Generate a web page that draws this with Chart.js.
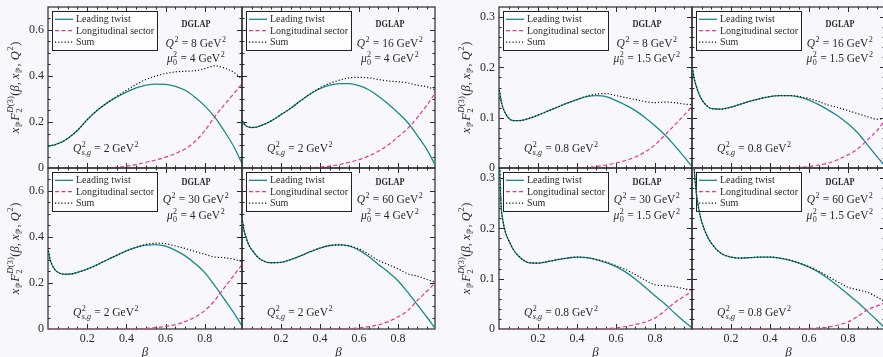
<!DOCTYPE html>
<html>
<head>
<meta charset="utf-8">
<script src="https://cdn.jsdelivr.net/npm/chart.js@4.4.0/dist/chart.umd.min.js"></script>
<style>
  html, body { margin: 0; padding: 0; background: #f8f8fc; width: 883px; height: 357px; overflow: hidden; }
  #wrap { position: relative; width: 883px; height: 357px; }
  canvas { position: absolute; }
</style>
</head>
<body>
<div id="wrap"></div>
<script>
const SERIF = '"Liberation Serif", "Times New Roman", serif';
const TEAL = '#16898c';
const PINK = '#e8338f';
const INK = '#2a2a2a';

const beta = [0.002, 0.01, 0.02, 0.035, 0.05, 0.075, 0.1, 0.15, 0.2, 0.25, 0.3, 0.35, 0.4,
  0.45, 0.5, 0.55, 0.6, 0.65, 0.7, 0.75, 0.8, 0.85, 0.9, 0.95, 0.99];

const xTickValues = [0.2, 0.4, 0.6, 0.8];
const yTicksMu4 = [0, 0.2, 0.4, 0.6];
const yTicksMu15 = [0, 0.1, 0.2, 0.3];
const seriesNames = ['Leading twist', 'Longitudinal sector', 'Sum'];

// mu0^2 = 4 GeV^2, Qsg^2 = 2 GeV^2
const twist8mu4 = [0.095,0.096,0.098,0.101,0.106,0.115,0.128,0.163,0.21,0.25,0.282,0.308,0.33,0.348,0.36,0.365,0.364,0.355,0.338,0.308,0.27,0.222,0.16,0.09,0.02];
const longi8mu4 = [0,0,0,0,0,0,0,0,0,0,0,0.003,0.008,0.015,0.025,0.035,0.047,0.063,0.083,0.115,0.162,0.222,0.275,0.325,0.366];
const sum8mu4 = [0.095,0.096,0.098,0.101,0.106,0.115,0.128,0.163,0.21,0.25,0.282,0.311,0.338,0.363,0.385,0.4,0.411,0.418,0.421,0.423,0.432,0.444,0.435,0.415,0.386];

const twist16mu4 = [0.205,0.193,0.184,0.178,0.176,0.178,0.185,0.205,0.232,0.26,0.292,0.322,0.345,0.36,0.367,0.367,0.358,0.34,0.312,0.278,0.24,0.198,0.14,0.078,0.015];
const longi16mu4 = [0,0,0,0,0,0,0,0,0,0,0,0,0.004,0.008,0.015,0.025,0.036,0.052,0.073,0.1,0.135,0.172,0.22,0.275,0.325];
const sum16mu4 = [0.205,0.193,0.184,0.178,0.176,0.178,0.185,0.205,0.232,0.26,0.292,0.322,0.349,0.368,0.382,0.392,0.394,0.392,0.385,0.378,0.375,0.37,0.36,0.353,0.34];

const twist30mu4 = [0.34,0.305,0.28,0.258,0.247,0.239,0.238,0.246,0.26,0.279,0.3,0.32,0.34,0.355,0.365,0.367,0.36,0.342,0.318,0.285,0.245,0.19,0.13,0.068,0.013];
const longi30mu4 = [0,0,0,0,0,0,0,0,0,0,0,0,0,0,0.003,0.006,0.011,0.019,0.032,0.052,0.08,0.123,0.18,0.235,0.28];
const sum30mu4 = [0.34,0.305,0.28,0.258,0.247,0.239,0.238,0.246,0.26,0.279,0.3,0.32,0.34,0.355,0.368,0.373,0.371,0.361,0.35,0.337,0.325,0.313,0.31,0.303,0.293];

const twist60mu4 = [0.47,0.43,0.4,0.365,0.345,0.318,0.3,0.288,0.29,0.302,0.318,0.336,0.352,0.363,0.366,0.36,0.343,0.315,0.28,0.248,0.21,0.16,0.105,0.05,0.004];
const longi60mu4 = [0,0,0,0,0,0,0,0,0,0,0,0,0,0,0,0.002,0.005,0.01,0.018,0.032,0.052,0.08,0.125,0.165,0.2];
const sum60mu4 = [0.47,0.43,0.4,0.365,0.345,0.318,0.3,0.288,0.29,0.302,0.318,0.336,0.352,0.363,0.366,0.362,0.348,0.325,0.298,0.28,0.262,0.24,0.23,0.215,0.204];

// mu0^2 = 1.5 GeV^2, Qsg^2 = 0.8 GeV^2
const twist8mu15 = [0.155,0.135,0.12,0.107,0.099,0.094,0.094,0.098,0.105,0.113,0.121,0.129,0.136,0.142,0.144,0.142,0.134,0.125,0.114,0.1,0.084,0.066,0.045,0.022,0.003];
const longi8mu15 = [0,0,0,0,0,0,0,0,0,0,0,0,0,0.001,0.003,0.006,0.01,0.015,0.022,0.032,0.046,0.065,0.085,0.105,0.123];
const sum8mu15 = [0.155,0.135,0.12,0.107,0.099,0.094,0.094,0.098,0.105,0.113,0.121,0.129,0.136,0.143,0.147,0.148,0.144,0.14,0.136,0.132,0.13,0.131,0.13,0.127,0.126];

const twist16mu15 = [0.2,0.18,0.165,0.148,0.136,0.124,0.118,0.117,0.121,0.127,0.133,0.138,0.142,0.144,0.144,0.141,0.135,0.126,0.115,0.103,0.088,0.07,0.046,0.022,0.004];
const longi16mu15 = [0,0,0,0,0,0,0,0,0,0,0,0,0,0,0,0.001,0.003,0.006,0.01,0.017,0.026,0.038,0.056,0.075,0.095];
const sum16mu15 = [0.2,0.18,0.165,0.148,0.136,0.124,0.118,0.117,0.121,0.127,0.133,0.138,0.142,0.144,0.144,0.142,0.138,0.132,0.125,0.12,0.114,0.108,0.102,0.097,0.099];

const twist30mu15 = [0.34,0.25,0.215,0.19,0.176,0.157,0.145,0.132,0.131,0.134,0.138,0.141,0.143,0.142,0.138,0.132,0.124,0.113,0.099,0.083,0.066,0.05,0.032,0.015,0.002];
const longi30mu15 = [0,0,0,0,0,0,0,0,0,0,0,0,0,0,0,0.001,0.002,0.005,0.009,0.014,0.022,0.036,0.052,0.065,0.075];
const sum30mu15 = [0.34,0.25,0.215,0.19,0.176,0.157,0.145,0.132,0.131,0.134,0.138,0.141,0.143,0.142,0.138,0.133,0.126,0.118,0.108,0.097,0.088,0.086,0.084,0.08,0.077];

const twist60mu15 = [0.42,0.33,0.278,0.238,0.213,0.187,0.17,0.15,0.143,0.141,0.142,0.143,0.143,0.141,0.137,0.131,0.123,0.113,0.1,0.085,0.069,0.053,0.035,0.017,0.002];
const longi60mu15 = [0,0,0,0,0,0,0,0,0,0,0,0,0,0,0,0,0.001,0.002,0.004,0.008,0.014,0.025,0.038,0.046,0.052];
const sum60mu15 = [0.42,0.33,0.278,0.238,0.213,0.187,0.17,0.15,0.143,0.141,0.142,0.143,0.143,0.141,0.137,0.131,0.124,0.115,0.104,0.093,0.083,0.078,0.073,0.063,0.054];

const panels = [
  { group: 0, col: 0, row: 0, q2: '8',  mu2: '4',   qsg: '2',   data: [twist8mu4, longi8mu4, sum8mu4] },
  { group: 0, col: 1, row: 0, q2: '16', mu2: '4',   qsg: '2',   data: [twist16mu4, longi16mu4, sum16mu4] },
  { group: 0, col: 0, row: 1, q2: '30', mu2: '4',   qsg: '2',   data: [twist30mu4, longi30mu4, sum30mu4] },
  { group: 0, col: 1, row: 1, q2: '60', mu2: '4',   qsg: '2',   data: [twist60mu4, longi60mu4, sum60mu4] },
  { group: 1, col: 0, row: 0, q2: '8',  mu2: '1.5', qsg: '0.8', data: [twist8mu15, longi8mu15, sum8mu15] },
  { group: 1, col: 1, row: 0, q2: '16', mu2: '1.5', qsg: '0.8', data: [twist16mu15, longi16mu15, sum16mu15] },
  { group: 1, col: 0, row: 1, q2: '30', mu2: '1.5', qsg: '0.8', data: [twist30mu15, longi30mu15, sum30mu15] },
  { group: 1, col: 1, row: 1, q2: '60', mu2: '1.5', qsg: '0.8', data: [twist60mu15, longi60mu15, sum60mu15] },
];

// page geometry
const colX = [[48, 242, 435], [499, 692, 885]];
const rowY = [7, 168, 329];
const groupLeft = [0, 440];
const yMax = [0.7, 0.32];
const yTicks = [yTicksMu4, yTicksMu15];
const yMinor = [0.05, 0.02];
const yMajorEvery = [4, 5];
const textRows = [[17, 35.5, 51, 141], [14.7, 31, 47, 143.7]];

// ---- small rich-text helper (italic, super/subscripts) ----
function font(size, italic, bold) {
  return (italic ? 'italic ' : '') + (bold ? 'bold ' : '') + size + 'px ' + SERIF;
}
function segWidth(ctx, segs, size) {
  let w = 0;
  segs.forEach(s => { ctx.font = font(size, s.i); w += ctx.measureText(s.t).width; });
  return w;
}
function drawSegs(ctx, segs, x, y, size) {
  segs.forEach(s => { ctx.font = font(size, s.i); ctx.fillText(s.t, x, y); x += ctx.measureText(s.t).width; });
  return x;
}
function richWidth(ctx, parts, size) {
  let w = 0;
  parts.forEach(p => {
    if (p.t !== undefined) w += segWidth(ctx, [p], size);
    else w += Math.max(p.sup ? segWidth(ctx, p.sup, size * 0.7) : 0, p.sub ? segWidth(ctx, p.sub, size * 0.7) : 0) + size * 0.08;
  });
  return w;
}
function drawRich(ctx, parts, x, y, size, align) {
  let cx = align === 'center' ? x - richWidth(ctx, parts, size) / 2 : x;
  ctx.textAlign = 'left';
  ctx.textBaseline = 'alphabetic';
  parts.forEach(p => {
    if (p.t !== undefined) cx = drawSegs(ctx, [p], cx, y, size);
    else {
      const a = p.sup ? drawSegs(ctx, p.sup, cx + size * 0.04, y - size * 0.42, size * 0.7) : cx;
      const b = p.sub ? drawSegs(ctx, p.sub, cx + size * 0.04, y + size * 0.25, size * 0.7) : cx;
      cx = Math.max(a, b) + size * 0.04;
    }
  });
}

const yTitle = [
  { t: 'x', i: 1 }, { sub: [{ t: 'ℙ' }] }, { t: 'F', i: 1 },
  { sup: [{ t: 'D', i: 1 }, { t: '(3)' }], sub: [{ t: '2' }] },
  { t: '(' }, { t: 'β', i: 1 }, { t: ', ' }, { t: 'x', i: 1 }, { sub: [{ t: 'ℙ' }] },
  { t: ', ' }, { t: 'Q', i: 1 }, { sup: [{ t: '2' }] }, { t: ')' },
];

function panelPlugin(p) {
  return {
    id: 'panelDecor',
    beforeDatasetsDraw(chart) {
      const ctx = chart.ctx;
      const { left, right, top, bottom } = chart.chartArea;
      const xs = chart.scales.x, ys = chart.scales.y;
      const g = p.group;
      ctx.save();

      // frame with inward ticks on all four sides
      ctx.strokeStyle = INK;
      ctx.lineWidth = 1;
      ctx.setLineDash([]);
      ctx.beginPath();
      for (let k = 1; k * 0.05 < 0.985; k++) {
        const len = k % 4 === 0 ? 5 : 2.5;
        const px = Math.round(xs.getPixelForValue(k * 0.05)) + 0.5;
        ctx.moveTo(px, bottom); ctx.lineTo(px, bottom - len);
        ctx.moveTo(px, top); ctx.lineTo(px, top + len);
      }
      for (let k = 1; k * yMinor[g] < yMax[g] - 1e-9; k++) {
        const len = k % yMajorEvery[g] === 0 ? 5 : 2.5;
        const py = Math.round(ys.getPixelForValue(k * yMinor[g])) + 0.5;
        ctx.moveTo(left, py); ctx.lineTo(left + len, py);
        ctx.moveTo(right, py); ctx.lineTo(right - len, py);
      }
      ctx.stroke();
      ctx.lineWidth = 1.2;
      ctx.strokeRect(left, top, right - left, bottom - top);

      // legend box
      const lx = left + 4, ly = top + 4;
      ctx.fillStyle = '#fdfdff';
      ctx.fillRect(lx, ly, 105, 39);
      ctx.lineWidth = 1;
      ctx.strokeStyle = '#222';
      ctx.strokeRect(lx + 0.5, ly + 0.5, 105, 39);
      const order = [2, 1, 0];
      order.forEach((di, k) => {
        const ds = chart.data.datasets[di];
        const yy = ly + 8.3 + k * 11.4;
        ctx.strokeStyle = ds.borderColor;
        ctx.lineWidth = ds.borderWidth;
        ctx.setLineDash(ds.borderDash || []);
        ctx.beginPath();
        ctx.moveTo(lx + 3, yy); ctx.lineTo(lx + 21, yy);
        ctx.stroke();
        ctx.fillStyle = INK;
        ctx.font = font(10);
        ctx.textAlign = 'left';
        ctx.textBaseline = 'middle';
        ctx.fillText(ds.label, lx + 24, yy + 0.5);
      });
      ctx.setLineDash([]);

      // annotations
      const tr = textRows[p.row];
      const cx = left + 148;
      ctx.fillStyle = INK;
      ctx.font = font(10.5, false, true);
      ctx.textAlign = 'center';
      ctx.textBaseline = 'middle';
      ctx.fillText('DGLAP', cx, top + tr[0], 29);
      drawRich(ctx, [{ t: 'Q', i: 1 }, { sup: [{ t: '2' }] }, { t: ' = ' + p.q2 + ' GeV' }, { sup: [{ t: '2' }] }],
        cx, top + tr[1] + 4, 11.5, 'center');
      drawRich(ctx, [{ t: 'μ', i: 1 }, { sup: [{ t: '2' }], sub: [{ t: '0' }] }, { t: ' = ' + p.mu2 + ' GeV' }, { sup: [{ t: '2' }] }],
        cx, top + tr[2] + 4, 11.5, 'center');
      drawRich(ctx, [{ t: 'Q', i: 1 }, { sup: [{ t: '2' }], sub: [{ t: 's,g', i: 1 }] }, { t: ' = ' + p.qsg + ' GeV' }, { sup: [{ t: '2' }] }],
        left + 25, top + tr[3] + 4, 11.5, 'left');

      // y axis title on the left-hand panels
      if (p.col === 0) {
        ctx.save();
        ctx.translate(left - 34, (top + bottom) / 2);
        ctx.rotate(-Math.PI / 2);
        drawRich(ctx, yTitle, 0, 4.5, 12.5, 'center');
        ctx.restore();
      }
      ctx.restore();
    }
  };
}

function makePanel(p) {
  const g = p.group;
  const x0 = colX[g][p.col], x1 = colX[g][p.col + 1];
  const y0 = rowY[p.row], y1 = rowY[p.row + 1];
  const first = p.col === 0, low = p.row === 1;
  const padL = first ? x0 - groupLeft[g] : 2;
  const padB = low ? 31 : 8;
  const canvas = document.createElement('canvas');
  canvas.width = padL + (x1 - x0) + 2;
  canvas.height = 2 + (y1 - y0) + padB;
  canvas.style.left = (x0 - padL) + 'px';
  canvas.style.top = (y0 - 2) + 'px';
  document.getElementById('wrap').appendChild(canvas);

  const pts = arr => beta.map((b, i) => ({ x: b, y: arr[i] }));
  const tickFont = { family: SERIF, size: 12 };

  new Chart(canvas, {
    type: 'line',
    data: {
      datasets: [
        { label: seriesNames[2], data: pts(p.data[2]), borderColor: '#111', borderWidth: 1.2, borderDash: [1.2, 2], order: 0 },
        { label: seriesNames[1], data: pts(p.data[1]), borderColor: PINK, borderWidth: 1.2, borderDash: [4, 2.5], order: 1 },
        { label: seriesNames[0], data: pts(p.data[0]), borderColor: TEAL, borderWidth: 1.3, order: 2 },
      ]
    },
    options: {
      responsive: false,
      animation: false,
      devicePixelRatio: 1,
      elements: { point: { radius: 0 }, line: { cubicInterpolationMode: 'monotone', fill: false } },
      layout: { padding: { left: first ? 0 : 2, right: 2, top: 2, bottom: low ? 0 : 8 } },
      scales: {
        x: {
          type: 'linear', min: 0, max: 0.99,
          display: low,
          grid: { display: false, drawTicks: false },
          border: { display: false },
          ticks: { font: tickFont, color: INK, padding: 3, maxRotation: 0, autoSkip: false },
          afterBuildTicks: s => { s.ticks = xTickValues.map(v => ({ value: v })); },
          afterFit: s => {
            s.paddingLeft = 0; s.paddingRight = 0;
            if (low) s.height = padB;
          },
          title: { display: true, text: 'β', color: INK, font: { family: SERIF, size: 13, style: 'italic' }, padding: { top: 0, bottom: 0 } }
        },
        y: {
          type: 'linear', min: 0, max: yMax[g],
          display: first,
          grid: { display: false, drawTicks: false },
          border: { display: false },
          ticks: { font: tickFont, color: INK, padding: 4, autoSkip: false, callback: v => String(v) },
          afterBuildTicks: s => { s.ticks = yTicks[g].map(v => ({ value: v })); },
          afterFit: s => {
            s.paddingTop = 0; s.paddingBottom = 0;
            if (first) s.width = padL;
          }
        }
      },
      plugins: { legend: { display: false }, tooltip: { enabled: false } }
    },
    plugins: [panelPlugin(p)]
  });
}

panels.forEach(makePanel);
</script>
</body>
</html>
